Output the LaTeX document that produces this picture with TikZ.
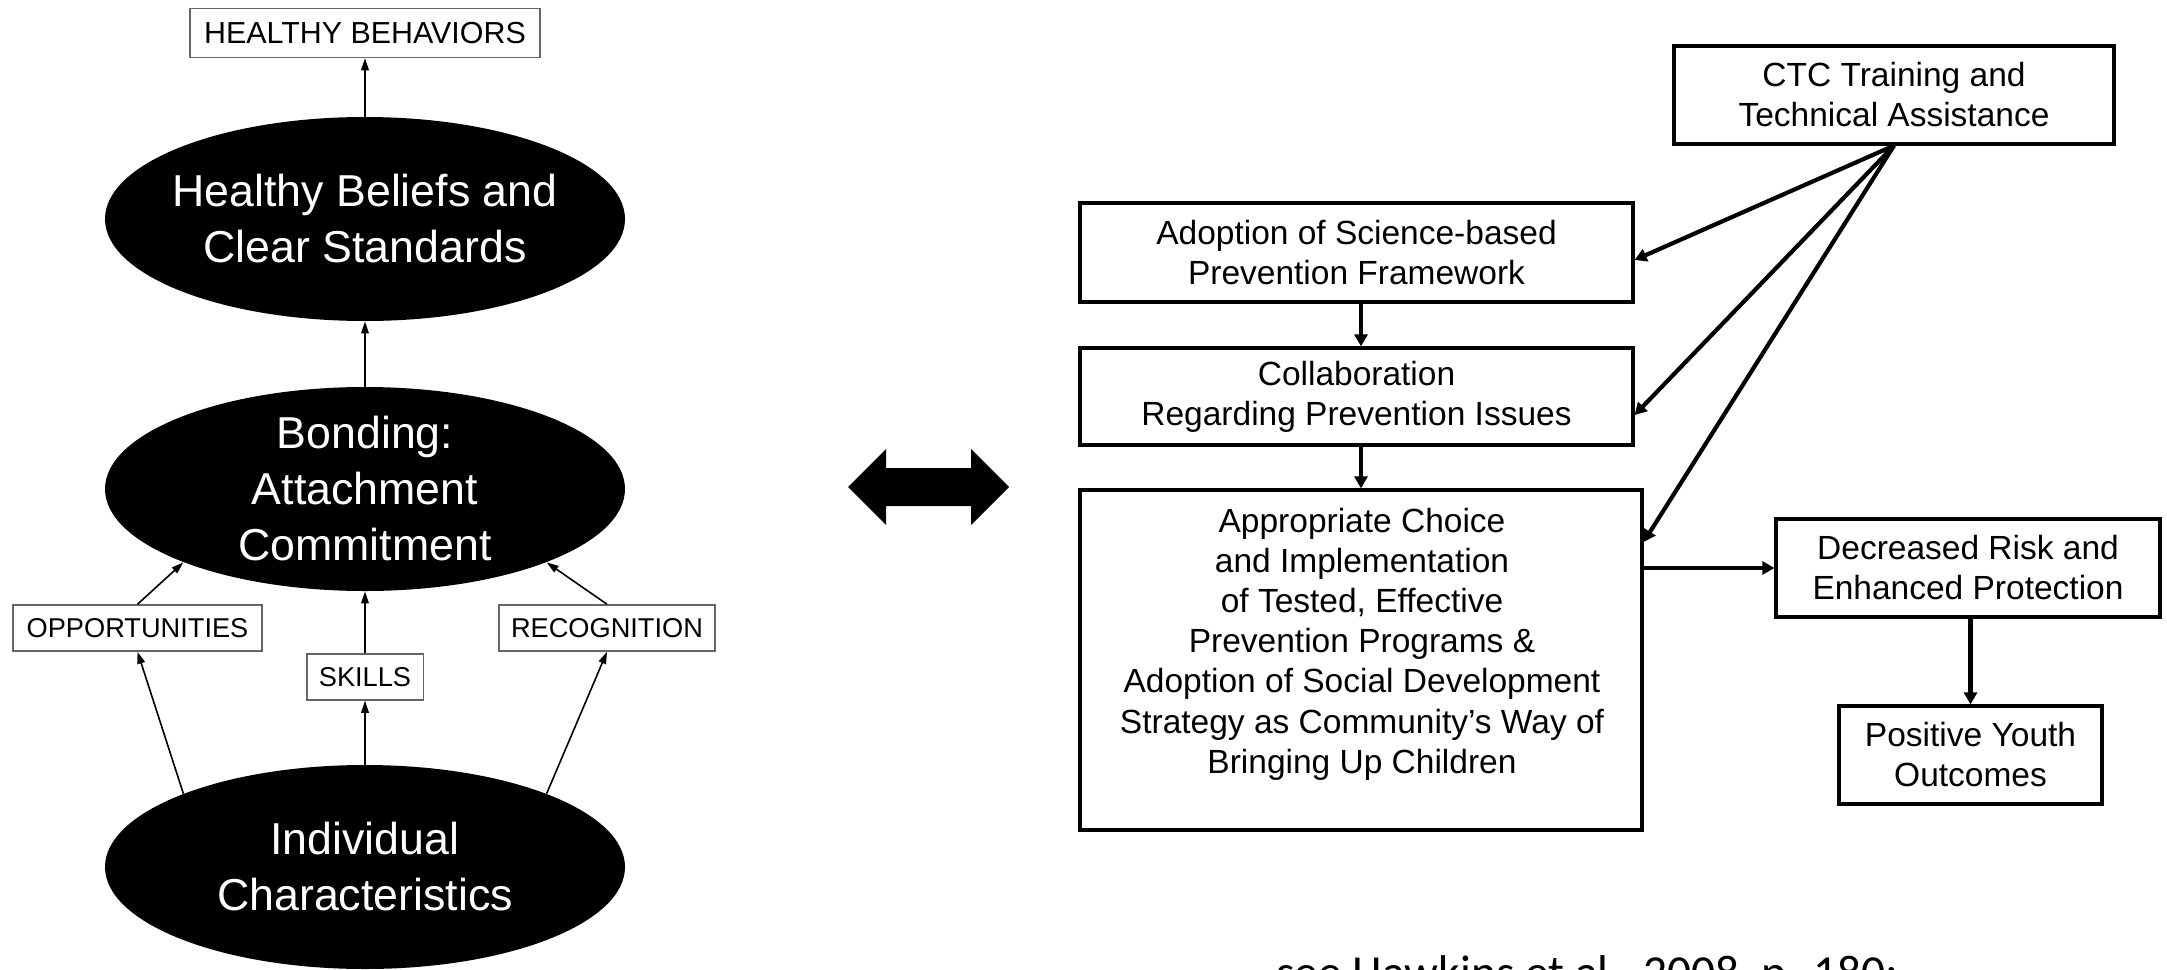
\documentclass[tikz,border=0pt]{standalone}
\usepackage{fontspec}
\setmainfont{Liberation Sans}
\newfontfamily\calibfont{Carlito}
\usetikzlibrary{shapes.geometric,arrows.meta}
\begin{document}
\begin{tikzpicture}[x=0.5pt,y=-0.5pt,
  lbox/.style={draw=black!60, line width=0.75pt, inner sep=0pt, minimum height=23pt, font=\fontsize{13.6}{16}\selectfont},
  bell/.style={ellipse, fill=black, inner sep=0pt, minimum width=260pt, minimum height=102pt},
  etext/.style={text=white, align=center, inner sep=0pt, font=\fontsize{22.35}{28}\selectfont},
  rbox/.style={draw=black, line width=1.6pt, inner sep=0pt, align=center, font=\fontsize{16.75}{20}\selectfont},
  larr/.style={draw=black, line width=0.8pt, -{Triangle[length=6pt,width=3.8pt]}},
  rarr/.style={draw=black, line width=2.1pt, -{Triangle[length=6pt,width=6.5pt]}},
]
\fill[white] (0,0) rectangle (2167,969);
\useasboundingbox (0,0) rectangle (2167,969);

% ---------- left: social development model ----------
\node[lbox, minimum width=175pt, minimum height=24.5pt, font=\fontsize{15.2}{18}\selectfont] (hb) at (365,33) {HEALTHY BEHAVIORS};
\node[bell] (e1) at (365,219) {};
\node[etext] (t1) at (e1.center) {Healthy Beliefs and\\Clear Standards};
\node[bell] (e2) at (365,489) {};
\node[etext] (t2) at (e2.center) {Bonding:\\Attachment\\Commitment};
\node[bell] (e3) at (365,867) {};
\node[etext] (t3) at (e3.center) {Individual\\Characteristics};
\node[lbox, minimum width=124.5pt] (opp) at (137.5,628) {OPPORTUNITIES};
\node[lbox, minimum width=58.25pt] (skl) at (365,677) {SKILLS};
\node[lbox, minimum width=108pt] (rec) at (607,628) {RECOGNITION};

\draw[larr] (e1.north) -- (hb.south);
\draw[larr] (e2.north) -- (e1.south);
\draw[larr] (skl.north) -- (e2.south);
\draw[larr] (e3.north) -- (skl.south);
\draw[larr] (e3.158) -- (opp.south);
\draw[larr] (opp.north) -- (e2.202);
\draw[larr] (e3.22) -- (rec.south);
\draw[larr] (rec.north) -- (e2.-22);

% ---------- middle double arrow ----------
\fill[black] (848,487) -- (886,449) -- (886,468) -- (971,468) -- (971,449) -- (1009,487)
  -- (971,525) -- (971,506) -- (886,506) -- (886,525) -- cycle;

% ---------- right: CTC model ----------
\node[rbox, minimum width=220pt, minimum height=49pt] (ctc) at (1894,95) {CTC Training and\\Technical Assistance};
\node[rbox, minimum width=276.5pt, minimum height=49.5pt] (adopt) at (1356.5,252.5) {Adoption of Science-based\\Prevention Framework};
\node[rbox, minimum width=276.5pt, minimum height=48.5pt] (collab) at (1356.5,396.5) {Collaboration\\Regarding Prevention Issues};
\node[rbox, minimum width=281pt, minimum height=170pt] (big) at (1361,660) {};
\node[align=center, inner sep=0pt, font=\fontsize{16.75}{20.1}\selectfont] (bigtxt) at (1362,644)
  {Appropriate Choice\\and Implementation\\of Tested, Effective\\Prevention Programs \&\\Adoption of Social Development\\Strategy as Community’s Way of\\Bringing Up Children};
\node[rbox, minimum width=192pt, minimum height=49pt] (dec) at (1968,568) {Decreased Risk and\\Enhanced Protection};
\node[rbox, minimum width=131.5pt, minimum height=49pt] (pos) at (1970.5,755) {Positive Youth\\Outcomes};

\draw[rarr] (adopt.south -| big.north) -- (collab.north -| big.north);
\draw[rarr] (collab.south -| big.north) -- (big.north);
\draw[rarr] (ctc.south) -- ([yshift=-3.75pt]adopt.east);
\draw[rarr] (ctc.south) -- ([yshift=-9.25pt]collab.east);
\draw[rarr] (ctc.south) -- ([yshift=59pt]big.east);
\draw[rarr] (big.east |- dec.west) -- (dec.west);
\draw[rarr] (dec.south -| pos.north) -- (pos.north);

% ---------- citation (cut by the lower edge) ----------
\node[anchor=base west, inner sep=0pt, font=\calibfont\fontsize{23.7}{28}\selectfont] (cite) at (1276,988.5) {see Hawkins et al., 2008, p. 180;};
\end{tikzpicture}
\end{document}
